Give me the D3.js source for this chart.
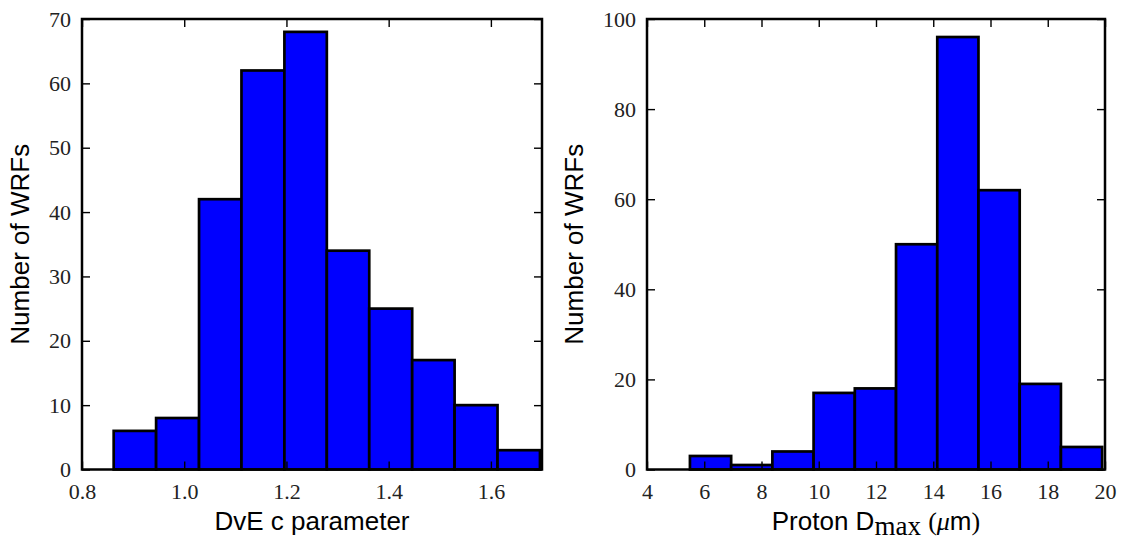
<!DOCTYPE html>
<html lang="en">
<head>
    <meta charset="UTF-8">
    <title>WRF histograms</title>
    <script src="https://cdn.jsdelivr.net/npm/d3@7/dist/d3.min.js"></script>
    <style>
        body { margin: 0; background: #fff; }
        .tick-label { font-family: 'Liberation Serif', 'DejaVu Serif', serif; font-size: 22px; fill: #222; }
        .axis-label { font-family: 'Liberation Sans', Arial, sans-serif; font-size: 26px; fill: #000; }
    </style>
</head>
<body>
    <div class="chart"></div>
</body>
<script>
    // left panel: DvE c parameter
    const cEdges = [0.862, 0.945, 1.029, 1.112, 1.196, 1.279, 1.362, 1.446, 1.529, 1.613, 1.696]
    const cCounts = [6, 8, 42, 62, 68, 34, 25, 17, 10, 3]
    const cXTicks = [0.8, 1.0, 1.2, 1.4, 1.6]
    const cYTicks = [0, 10, 20, 30, 40, 50, 60, 70]

    // right panel: proton Dmax
    const dEdges = [5.5, 6.94, 8.38, 9.82, 11.26, 12.7, 14.14, 15.58, 17.02, 18.46, 19.9]
    const dCounts = [3, 1, 4, 17, 18, 50, 96, 62, 19, 5]
    const dXTicks = [4, 6, 8, 10, 12, 14, 16, 18, 20]
    const dYTicks = [0, 20, 40, 60, 80, 100]

    const width = 1123
    const height = 541
    const plotTop = 19
    const plotBottom = 469.5
    const tickLen = 8

    const svg = d3.select('.chart')
        .append('svg')
        .attr('width', width)
        .attr('height', height)

    function drawPanel(opt) {
        const x = d3.scaleLinear().domain(opt.xDomain).range([opt.left, opt.right])
        const y = d3.scaleLinear().domain(opt.yDomain).range([plotBottom, plotTop])
        const g = svg.append('g')

        const bins = opt.counts.map((c, i) => ({ x0: opt.edges[i], x1: opt.edges[i + 1], n: c }))
        g.selectAll('.bar')
            .data(bins)
            .enter()
            .append('rect')
            .attr('class', 'bar')
            .attr('x', d => x(d.x0))
            .attr('y', d => y(d.n))
            .attr('width', d => x(d.x1) - x(d.x0))
            .attr('height', d => y(0) - y(d.n))
            .attr('fill', '#0000ff')
            .attr('stroke', '#000')
            .attr('stroke-width', 2.7)

        // ticks on all four sides, pointing inward
        const xAxis = d3.axisBottom(x).tickValues(opt.xTicks).tickSizeInner(-tickLen).tickSizeOuter(0).tickFormat(opt.xFormat)
        const yAxis = d3.axisLeft(y).tickValues(opt.yTicks).tickSizeInner(-tickLen).tickSizeOuter(0).tickFormat(d3.format('d'))
        const xTopAxis = d3.axisTop(x).tickValues(opt.xTicks).tickSizeInner(-tickLen).tickSizeOuter(0).tickFormat('')
        const yRight = d3.axisRight(y).tickValues(opt.yTicks).tickSizeInner(-tickLen).tickSizeOuter(0).tickFormat('')

        const gx = g.append('g').attr('transform', `translate(0, ${plotBottom})`).call(xAxis)
        const gy = g.append('g').attr('transform', `translate(${opt.left}, 0)`).call(yAxis)
        const gt = g.append('g').attr('transform', `translate(0, ${plotTop})`).call(xTopAxis)
        const gr = g.append('g').attr('transform', `translate(${opt.right}, 0)`).call(yRight)

        ;[gx, gy, gt, gr].forEach(a => {
            a.select('.domain').remove()
            a.attr('font-family', null).attr('font-size', null)
            a.selectAll('.tick line').attr('stroke', '#000').attr('stroke-width', 1.4)
        })
        gx.selectAll('.tick text').attr('class', 'tick-label').attr('y', 14).attr('dy', '0.71em')
        gy.selectAll('.tick text').attr('class', 'tick-label').attr('x', -11)

        g.append('rect')
            .attr('x', opt.left)
            .attr('y', plotTop)
            .attr('width', opt.right - opt.left)
            .attr('height', plotBottom - plotTop)
            .attr('fill', 'none')
            .attr('stroke', '#000')
            .attr('stroke-width', 2.5)

        g.append('text')
            .attr('class', 'axis-label')
            .attr('transform', `translate(${opt.yLabelX}, ${(plotTop + plotBottom) / 2}) rotate(-90)`)
            .attr('text-anchor', 'middle')
            .text('Number of WRFs')

        const xl = g.append('text')
            .attr('class', 'axis-label')
            .attr('x', (opt.left + opt.right) / 2)
            .attr('y', 530)
            .attr('text-anchor', 'middle')
        opt.xLabel(xl)
    }

    drawPanel({
        left: 82, right: 542, yLabelX: 29,
        xDomain: [0.8, 1.7], yDomain: [0, 70],
        edges: cEdges, counts: cCounts,
        xTicks: cXTicks, yTicks: cYTicks,
        xFormat: d3.format('.1f'),
        xLabel: t => t.text('DvE c parameter')
    })

    drawPanel({
        left: 647, right: 1105, yLabelX: 583,
        xDomain: [4, 20], yDomain: [0, 100],
        edges: dEdges, counts: dCounts,
        xTicks: dXTicks, yTicks: dYTicks,
        xFormat: d3.format('d'),
        xLabel: t => {
            t.append('tspan').text('Proton D')
            t.append('tspan').attr('dy', 5).attr('font-family', "'Liberation Serif', serif").attr('font-size', 27).text('max')
            t.append('tspan').attr('dy', -5).text(' ')
            t.append('tspan').attr('font-family', "'Liberation Serif', serif").text('(')
            t.append('tspan').attr('font-family', "'Liberation Serif', serif").attr('font-style', 'italic').text('μ')
            t.append('tspan').text('m')
            t.append('tspan').attr('font-family', "'Liberation Serif', serif").text(')')
        }
    })
</script>
</html>
